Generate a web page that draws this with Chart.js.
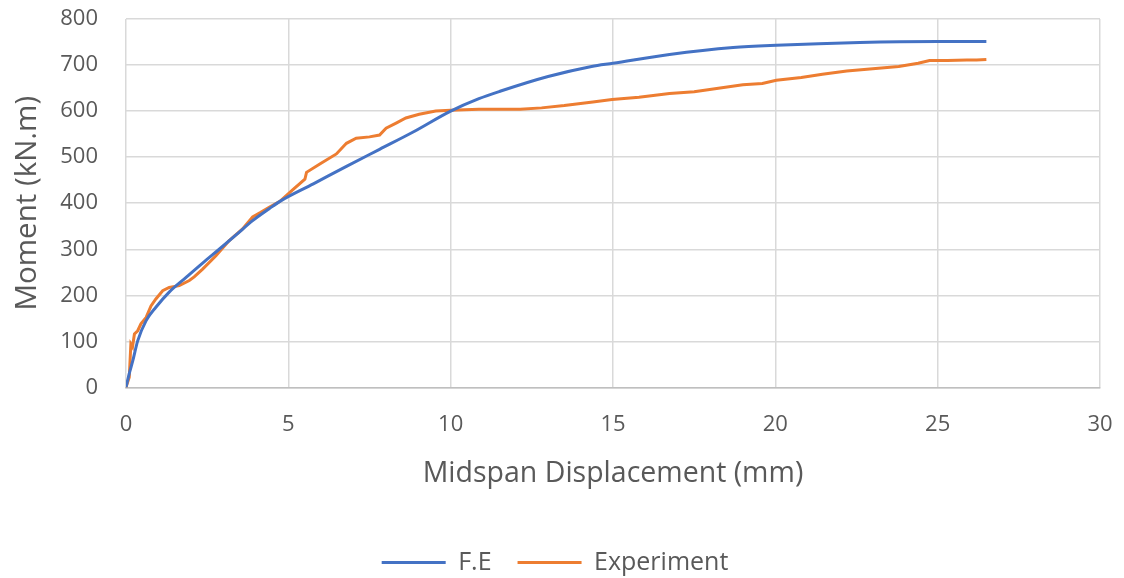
<!DOCTYPE html>
<html>
<head>
<meta charset="utf-8">
<script src="https://cdn.jsdelivr.net/npm/chart.js@4"></script>
<style>
  html, body { margin: 0; padding: 0; background: #fff; }
  #wrap { width: 1124px; height: 578px; }
</style>
</head>
<body>
<div id="wrap"><canvas id="momentChart" width="1124" height="578"></canvas></div>
<script>
// Moment vs midspan displacement
const feX = [0, 0.1, 0.21, 0.36, 0.62, 0.92, 1.33, 1.85, 2.36, 2.87, 3.39, 3.9, 4.41, 4.74, 5.77, 6.79, 7.81, 8.83, 10, 10.87, 11.52, 13, 14.34, 15, 16.74, 18.7, 20.03, 22.6, 25, 26.5];
const feY = [0, 30, 58, 101, 145, 174, 207, 239, 270, 300, 331, 362, 388, 404, 442, 480, 517, 554, 600, 627, 643, 675, 697, 704, 723, 738, 743, 749, 751, 751];

const expX = [0, 0.1, 0.15, 0.2, 0.26, 0.36, 0.46, 0.62, 0.77, 0.92, 1.13, 1.33, 1.64, 1.95, 2.1, 2.36, 2.77, 3.18, 3.59, 3.9, 4.15, 4.41, 4.74, 5.15, 5.51, 5.56, 5.97, 6.48, 6.79, 7.09, 7.5, 7.81, 8.01, 8.32, 8.62, 9.03, 9.54, 10, 10.87, 11.52, 12.14, 12.8, 13.5, 14.38, 14.97, 15.8, 16.74, 17.5, 18.3, 19.0, 19.6, 20.03, 20.8, 21.45, 22.2, 23.0, 23.8, 24.4, 24.75, 25.3, 25.9, 26.2, 26.5];
const expY = [0, 22, 94, 88, 116, 123, 138, 152, 177, 192, 210, 217, 221, 232, 240, 257, 286, 319, 344, 370, 380, 391, 404, 430, 452, 467, 485, 507, 530, 541, 544, 548, 563, 574, 585, 593, 600, 602, 604, 604, 604, 607, 612, 620, 625, 630, 638, 642, 650, 657, 660, 667, 673, 680, 687, 692, 697, 704, 710, 710, 711, 711, 712];

const xTicks = [0, 5, 10, 15, 20, 25, 30];
const yTicks = [0, 100, 200, 300, 400, 500, 600, 700, 800];

const toPoints = (xs, ys) => xs.map((x, i) => ({ x: x, y: ys[i] }));

const textColor = '#595959';
const gridColor = '#d9d9d9';
const fontFamily = '"Open Sans", "Noto Sans", sans-serif';

const chart = new Chart(document.getElementById('momentChart').getContext('2d'), {
    type: 'line',
    data: {
        datasets: [
            { label: 'F.E', data: toPoints(feX, feY), borderColor: '#4472C4', backgroundColor: '#4472C4', borderWidth: 3, pointRadius: 0, cubicInterpolationMode: 'monotone' },
            { label: 'Experiment', data: toPoints(expX, expY), borderColor: '#ED7D31', backgroundColor: '#ED7D31', borderWidth: 3, pointRadius: 0, tension: 0 }
        ]
    },
    options: {
        responsive: false,
        animation: false,
        layout: { padding: { left: 10, right: 24, top: 19, bottom: -7 } },
        plugins: {
            tooltip: { enabled: false },
            legend: {
                position: 'bottom',
                labels: {
                    color: textColor,
                    font: { family: fontFamily, size: 25 },
                    boxWidth: 64,
                    boxHeight: 3,
                    padding: 26,
                    generateLabels: function(c) {
                        return Chart.defaults.plugins.legend.labels.generateLabels(c).map(l => ({ ...l, lineWidth: 0, fillStyle: l.strokeStyle }));
                    }
                }
            }
        },
        scales: {
            x: {
                type: 'linear',
                min: 0,
                max: 30,
                afterBuildTicks: axis => { axis.ticks = xTicks.map(v => ({ value: v })); },
                afterFit: axis => { axis.paddingRight = 5; axis.paddingLeft = 5; },
                ticks: { color: textColor, font: { family: fontFamily, size: 22 }, padding: 24, maxRotation: 0 },
                grid: { color: gridColor, lineWidth: 1.5, drawTicks: false },
                border: { color: '#bfbfbf', width: 1.5 },
                title: { display: true, text: 'Midspan Displacement (mm)', color: textColor, font: { family: fontFamily, size: 28.5 }, padding: { top: -5, bottom: 33 } }
            },
            y: {
                min: 0,
                max: 800,
                afterBuildTicks: axis => { axis.ticks = yTicks.map(v => ({ value: v })); },
                afterFit: axis => { axis.width = 116; axis.paddingTop = 5; axis.paddingBottom = 5; },
                ticks: { color: textColor, font: { family: fontFamily, size: 22 }, padding: 28 },
                grid: { color: gridColor, lineWidth: 1.5, drawTicks: false },
                border: { display: false },
                title: { display: true, text: 'Moment (kN.m)', color: textColor, font: { family: fontFamily, size: 29.5 }, padding: { top: 0, bottom: 14 } }
            }
        }
    }
});
</script>
</body>
</html>
